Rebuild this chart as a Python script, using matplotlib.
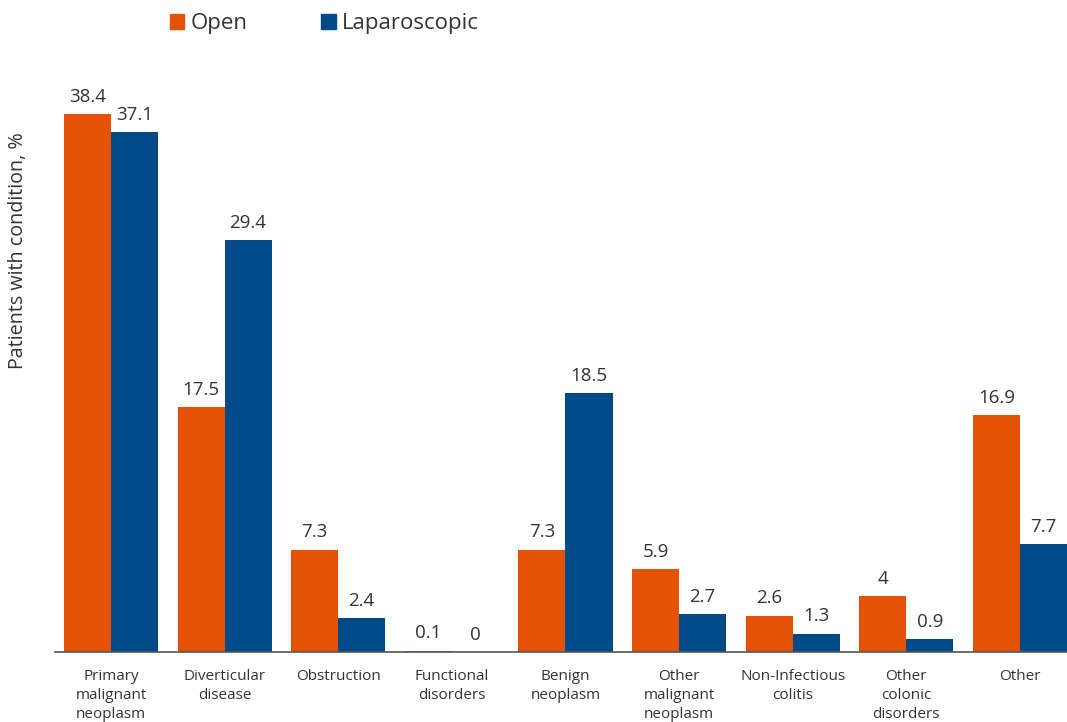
import matplotlib.pyplot as plt
import numpy as np
from matplotlib.patches import Patch

plt.rcParams['font.family'] = ['Open Sans', 'DejaVu Sans']

categories = ["Primary\nmalignant\nneoplasm", "Diverticular\ndisease", "Obstruction",
              "Functional\ndisorders", "Benign\nneoplasm", "Other\nmalignant\nneoplasm",
              "Non-Infectious\ncolitis", "Other\ncolonic\ndisorders", "Other"]
open_pct = [38.4, 17.5, 7.3, 0.1, 7.3, 5.9, 2.6, 4, 16.9]
lap_pct = [37.1, 29.4, 2.4, 0, 18.5, 2.7, 1.3, 0.9, 7.7]
series_names = ["Open", "Laparoscopic"]

orange = "#E35205"
blue = "#004A87"
text_col = "#333333"

fig = plt.figure(figsize=(10.67, 7.22), dpi=100)
ax = fig.add_axes([0.0515, 0.097, 0.9485, 0.792])

x = np.arange(len(categories))
w = 0.414
b1 = ax.bar(x - w / 2, open_pct, w, color=orange)
b2 = ax.bar(x + w / 2, lap_pct, w, color=blue)

for bars in (b1, b2):
    ax.bar_label(bars, labels=[f"{v:g}" for v in bars.datavalues], padding=6,
                 fontsize=13.5, color=text_col)

ax.set_xlim(-0.493, 8.414)
ax.set_ylim(0, 40.83)
ax.set_xticks(x)
ax.set_xticklabels(categories, fontsize=11, color=text_col, linespacing=1.4, va='top')
ax.tick_params(axis='x', length=0, pad=12)
ax.set_yticks([])
for side in ("top", "right", "left"):
    ax.spines[side].set_visible(False)
ax.spines["bottom"].set_color("#555555")
ax.spines["bottom"].set_linewidth(1.2)

fig.text(18 / 1067, 1 - 251 / 722, "Patients with condition, %", rotation=90,
         ha='center', va='center', fontsize=14.2, color=text_col)

handles = [Patch(color=orange), Patch(color=blue)]
fig.legend(handles, series_names, loc='center', bbox_to_anchor=(0.304, 0.967), ncol=2,
           frameon=False, fontsize=16, handlelength=0.65, handleheight=0.65,
           handletextpad=0.3, columnspacing=3.3, labelcolor=text_col)

fig.savefig("out.png", dpi=100)
